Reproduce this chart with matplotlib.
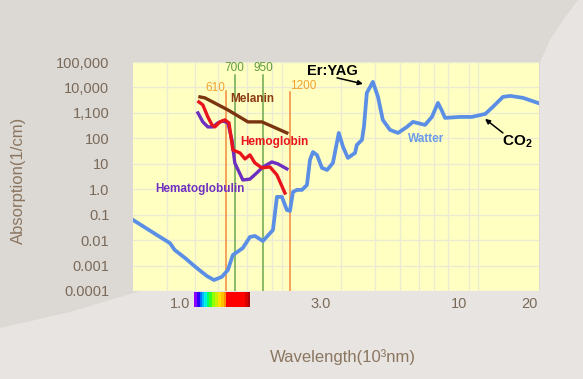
import numpy as np
import matplotlib
matplotlib.use('Agg')
import matplotlib.pyplot as plt
from matplotlib.patches import Polygon
from matplotlib.colors import ListedColormap
from matplotlib.ticker import NullLocator, NullFormatter

plt.rcParams['font.family'] = ['Liberation Sans', 'DejaVu Sans']
plt.rcParams['mathtext.fontset'] = 'custom'
plt.rcParams['mathtext.rm'] = 'Liberation Sans'
plt.rcParams['mathtext.bf'] = 'Liberation Sans:bold'

# wavelength in um (log axis) / absorption in 1/cm
water_wl = [0.174, 0.239, 0.268, 0.284, 0.320, 0.368, 0.414, 0.450, 0.494, 0.530,
            0.562, 0.632, 0.687, 0.728, 0.800, 0.900, 0.943, 1.0, 1.06, 1.099,
            1.138, 1.193, 1.265, 1.342, 1.39, 1.44, 1.51, 1.60, 1.70, 1.82,
            1.95, 2.05, 2.17, 2.36, 2.41, 2.56, 2.62, 2.71, 2.91, 3.09,
            3.27, 3.56, 3.91, 4.34, 4.66, 5.37, 5.82, 6.25, 6.55, 6.79,
            8.09, 9.31, 10.9, 11.9, 13.4, 14.6, 17.0, 20.4]
water_abs = [0.062, 0.0133, 0.0077, 0.0041, 0.002, 0.0008, 0.00039, 0.00027, 0.00036, 0.00067,
             0.0026, 0.0049, 0.0133, 0.0146, 0.0092, 0.025, 0.5, 0.5, 0.153, 0.14,
             0.78, 0.94, 0.94, 1.47, 14.2, 29, 22, 6.9, 5.7, 10.8,
             163, 46, 17, 26.7, 55, 87, 281, 6100, 16500, 4250,
             530, 214, 163, 281, 443, 337, 695, 2470, 1200, 635,
             695, 695, 912, 1720, 4250, 4660, 3880, 2400]

melanin_wl = [0.382, 0.405, 0.530, 0.671, 0.791, 1.06]
melanin_abs = [4250, 3880, 1310, 443, 443, 163]

hemoglobin_wl = [0.377, 0.395, 0.419, 0.440, 0.455, 0.483, 0.512, 0.537, 0.562,
                 0.611, 0.648, 0.687, 0.728, 0.791, 0.869, 0.943, 1.036]
hemoglobin_abs = [2700, 2060, 695, 337, 281, 443, 530, 404, 35,
                  26.7, 15.5, 22.3, 10.8, 6.9, 7.5, 3.65, 0.71]

hematoglobulin_wl = [0.373, 0.395, 0.419, 0.445, 0.471, 0.500, 0.530, 0.556,
                     0.575, 0.632, 0.687, 0.745, 0.800, 0.889, 0.954, 1.06]
hematoglobulin_abs = [1000, 443, 281, 281, 404, 484, 404, 87,
                      10.8, 2.3, 2.5, 4.4, 7.5, 11.8, 9.9, 6.3]

# marker lines as drawn on the chart
marker_labels = ['610', '700', '950', '1200']
marker_wl = [0.518, 0.575, 0.800, 1.098]
marker_top = [7300, 31200, 31200, 6700]
marker_colors = ['#ef8a3c', '#6aa84f', '#6aa84f', '#ef8a3c']
marker_label_wl = [0.455, 0.575, 0.809, 1.28]
marker_label_y = [9600, 58800, 58800, 11500]
marker_label_colors = ['#f0a030', '#5f9a3a', '#5f9a3a', '#f0a030']

x_tick_wl = [0.302, 1.58, 8.0, 18.4]
x_tick_labels = ['1.0', '3.0', '10', '20']
x_grid_wl = [0.26, 0.36, 0.47, 0.66, 0.89, 1, 2, 3, 4, 5, 6, 7, 8, 9, 10]
y_ticks = [1e-4, 1e-3, 1e-2, 1e-1, 1, 10, 100, 1e3, 1e4, 1e5]
y_tick_labels = ['0.0001', '0.001', '0.01', '0.1', '1.0', '10', '100', '1,100', '10,000', '100,000']

spectrum_colors = (['#8c00ff'] * 3 + ['#2a00ff'] * 3 + ['#0070ff'] * 2 + ['#00b8ff'] * 2 +
                   ['#00f0e0'] * 3 + ['#00ff70'] * 2 + ['#30ff20'] * 3 + ['#90ff00'] * 3 +
                   ['#c8f000'] * 3 + ['#ffe000'] * 3 + ['#ffc000'] * 3 + ['#ff9000'] * 2 +
                   ['#ff0000'] * 19 + ['#d80000'] * 3 + ['#b00010'] * 2)

W, H = 583, 379


def fx(px):
    return px / W


def fy(py):
    return 1 - py / H


fig = plt.figure(figsize=(W / 100, H / 100), dpi=100)
fig.patch.set_facecolor('#e7e4e1')
dark = [(0, 0), (578, 0), (563, 20), (550, 40), (540, 62), (540, 291),
        (140, 291), (70, 312), (0, 328)]
fig.patches.append(Polygon([(fx(a), fy(b)) for a, b in dark], closed=True,
                           transform=fig.transFigure, facecolor='#dcd8d4',
                           edgecolor='none', zorder=-10))

ax = fig.add_axes([fx(133), fy(291), fx(539) - fx(133), fy(62) - fy(291)])
ax.set_facecolor('#ffffc2')
ax.set_xscale('log')
ax.set_yscale('log')
ax.set_xlim(0.174, 20.47)
ax.set_ylim(1e-4, 1e5)
for s in ax.spines.values():
    s.set_visible(False)

ax.set_xticks(x_tick_wl, x_tick_labels)
ax.set_xticks(x_grid_wl, minor=True)
ax.xaxis.set_minor_formatter(NullFormatter())
ax.set_yticks(y_ticks, y_tick_labels)
ax.yaxis.set_minor_locator(NullLocator())
ax.tick_params(axis='both', which='both', length=0, labelsize=10.5, labelcolor='#7a6a5a')
ax.tick_params(axis='y', pad=17)
ax.tick_params(axis='x', pad=4)
ax.grid(axis='x', which='minor', color='#ebebd3', lw=1)
ax.grid(axis='y', which='major', color='#ebebd3', lw=1)
ax.set_axisbelow(True)

for wl, top, c in zip(marker_wl, marker_top, marker_colors):
    ax.plot([wl, wl], [1e-4, top], color=c, lw=1.1, zorder=2)
for lab, wl, y, c in zip(marker_labels, marker_label_wl, marker_label_y, marker_label_colors):
    ax.text(wl, y, lab, color=c, fontsize=8.5, ha='center', va='center', zorder=5)

ax.plot(hematoglobulin_wl, hematoglobulin_abs, color='#6c2fc0', lw=2.4, zorder=3)
ax.plot(hemoglobin_wl, hemoglobin_abs, color='#e8141c', lw=2.4, zorder=4)
ax.plot(melanin_wl, melanin_abs, color='#7a3510', lw=2.4, zorder=4)
ax.plot(water_wl, water_abs, color='#5b8fe6', lw=2.7, zorder=4, solid_joinstyle='round')

ax.text(0.703, 3550, 'Melanin', color='#8b3a12', fontsize=8.5, fontweight='bold',
        ha='center', va='center', zorder=5)
ax.text(0.91, 72, 'Hemoglobin', color='#e8141c', fontsize=8.5, fontweight='bold',
        ha='center', va='center', zorder=5)
ax.text(0.382, 1.03, 'Hematoglobulin', color='#7030c0', fontsize=8.5, fontweight='bold',
        ha='center', va='center', zorder=5)
ax.text(5.43, 95, 'Watter', color='#6a9be8', fontsize=8.5, fontweight='bold',
        ha='center', va='center', zorder=5)
ax.text(1.80, 44800, 'Er:YAG', color='black', fontsize=10.5, fontweight='bold',
        ha='center', va='center', zorder=5)
ax.text(15.8, 72, r'$\mathbf{CO_2}$', color='black', fontsize=11,
        ha='center', va='center', zorder=5)
ax.annotate('', xy=(2.59, 13800), xytext=(1.91, 23800),
            arrowprops=dict(arrowstyle='-|>', color='black', lw=1.1,
                            mutation_scale=7, shrinkA=0, shrinkB=0), zorder=5)
ax.annotate('', xy=(10.86, 580), xytext=(13.4, 163),
            arrowprops=dict(arrowstyle='-|>', color='black', lw=1.1,
                            mutation_scale=7, shrinkA=0, shrinkB=0), zorder=5)

# visible spectrum strip under the axis
sax = fig.add_axes([fx(194), fy(307), fx(250) - fx(194), fy(292) - fy(307)])
sax.imshow(np.arange(len(spectrum_colors))[None, :], cmap=ListedColormap(spectrum_colors),
           aspect='auto', interpolation='nearest')
sax.axis('off')

fig.text(fx(18), fy(180), 'Absorption(1/cm)', rotation=90, ha='center', va='center',
         fontsize=12, color='#8b7660')
fig.text(fx(343), fy(357), 'Wavelength(10³nm)', ha='center', va='center',
         fontsize=12, color='#8b7660')

fig.savefig('out.png', dpi=100, facecolor=fig.get_facecolor())
